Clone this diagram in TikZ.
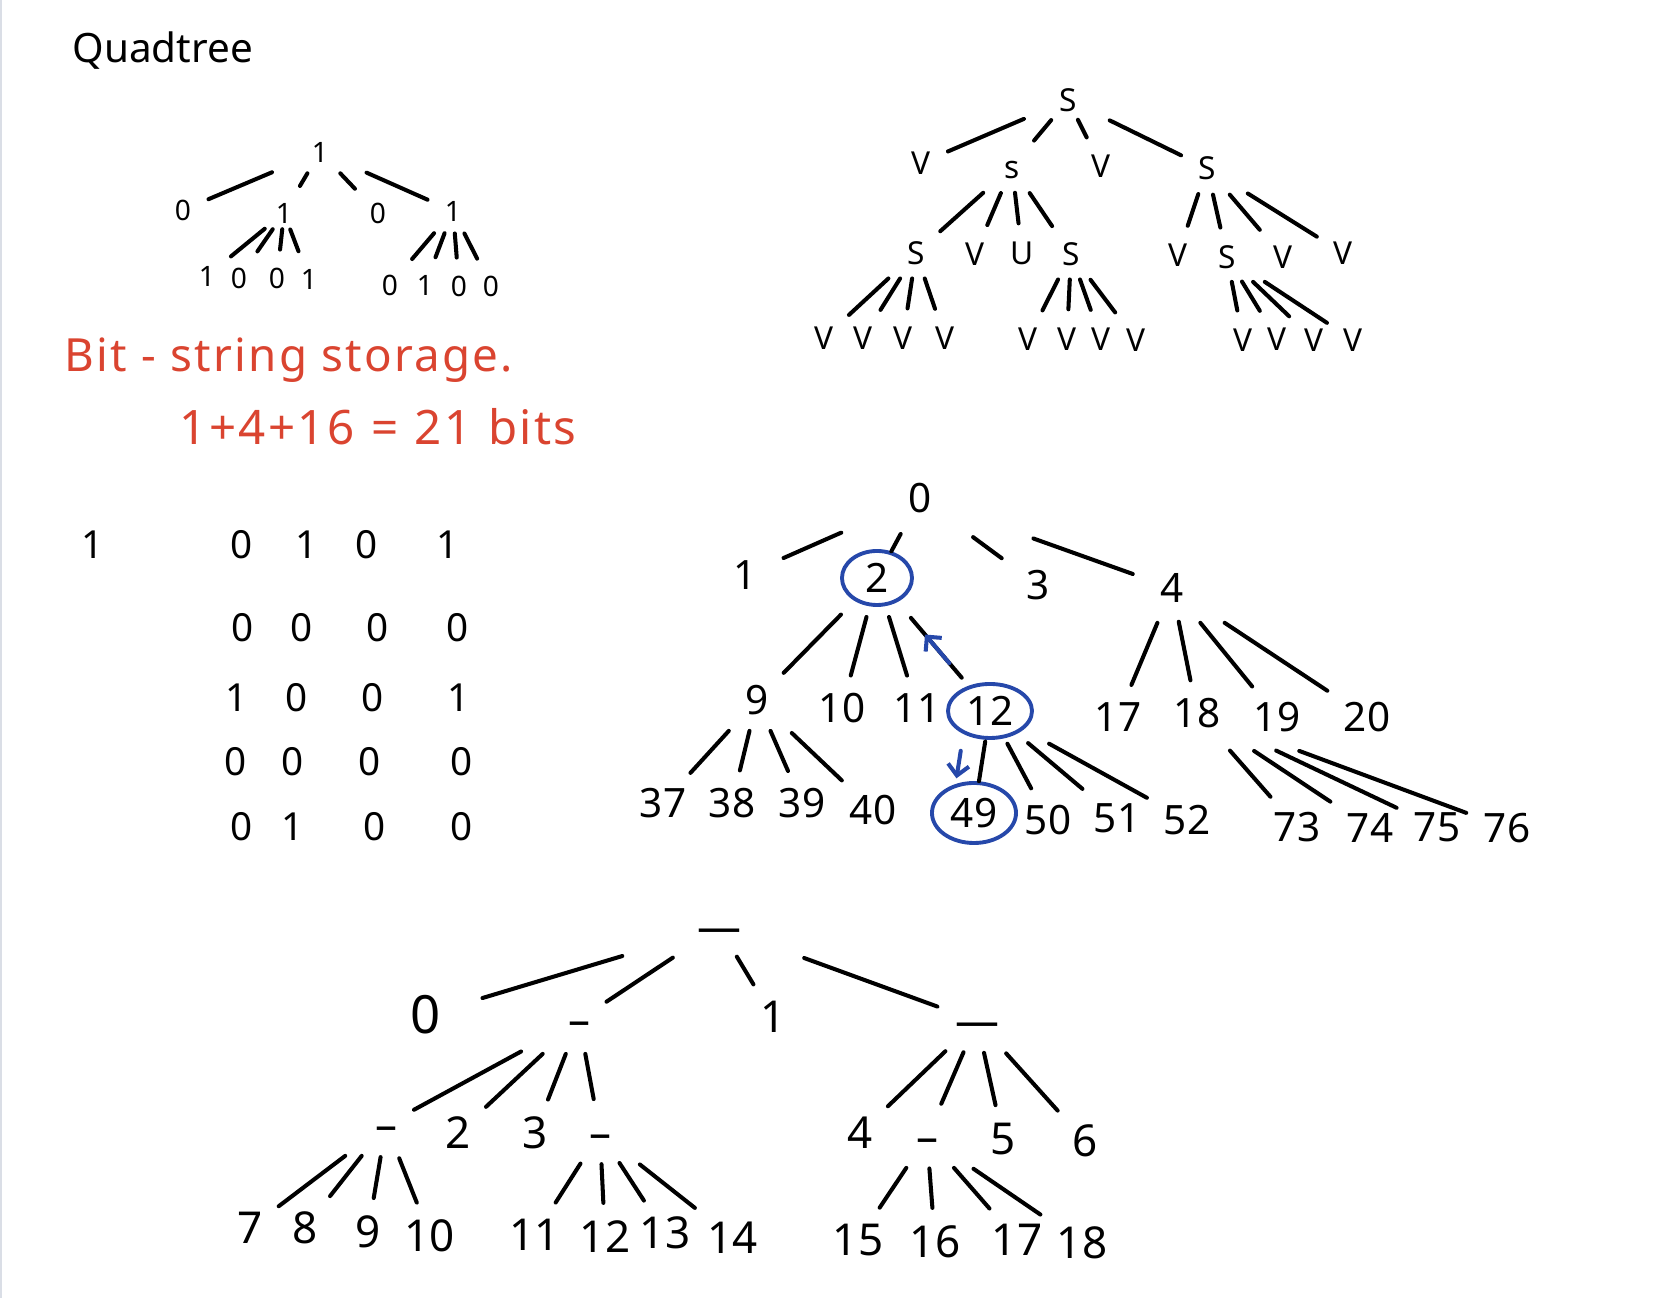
\documentclass[tikz,border=0pt]{standalone}
\usepackage{fontspec}
\setmainfont{Noto Sans}
\newfontfamily\notefont{Noto Sans}[LetterSpace=5]
\usepackage{tikz}
\usetikzlibrary{calc,arrows.meta,shapes.geometric}
\definecolor{inkred}{RGB}{218,68,48}
\definecolor{inkblue}{RGB}{38,72,170}
\definecolor{framegray}{RGB}{218,222,230}
\tikzset{inkline/.style={line width=1.15pt,line cap=round,line join=round}}
\tikzset{twig/.style={to path={($(\tikztostart)!#1!(\tikztotarget)$) -- (\tikztotarget)},shorten >=3pt},twig/.default=.3}
\tikzset{bitnode/.style={font=\fontsize{8}{10}\selectfont,text height=5.8pt,text depth=0pt,inner sep=2pt}}
\tikzset{svnode/.style={font=\fontsize{9}{11}\selectfont,text height=6.5pt,text depth=0pt,inner sep=2pt}}
\tikzset{gridnode/.style={font=\fontsize{11}{13}\selectfont,inner sep=1pt}}
\tikzset{midnode/.style={font=\fontsize{11.5}{14}\selectfont,text height=8.3pt,text depth=0pt,inner sep=2pt}}
\tikzset{lownode/.style={font=\fontsize{12.5}{15}\selectfont,text height=9pt,text depth=0pt,inner sep=2pt}}
\tikzset{ring/.style={ellipse,draw=inkblue,line width=1.1pt,inner sep=0pt}}
\tikzset{notetext/.style={text=inkred,inner sep=0pt}}

\begin{document}
\begin{tikzpicture}[x=0.01cm,y=-0.01cm]
  \useasboundingbox (0,0) rectangle (1668,1298);
  \draw[framegray,line width=0.6pt] (1,0) -- (1,1298);

  % heading and note
  \node[font=\fontsize{11.5}{14}\selectfont,anchor=base west,inner sep=0pt] (title) at (72,63) {Quadtree};
  \node[notetext,font=\notefont\fontsize{13}{16}\selectfont,anchor=base west] (note) at (64,372) {Bit - string storage.};
  \node[notetext,font=\notefont\fontsize{13.5}{16}\selectfont,anchor=base west] (sum) at (179,445) {1+4+16\hspace{.35em}=\hspace{.35em}21\hspace{.35em}bits};

  % bit tree
  \node[bitnode] (r1) at (320,152) {1};
  \node[bitnode] (a1) at (183,210) {0};
  \node[bitnode] (a2) at (284,213) {1};
  \node[bitnode] (a3) at (378,213) {0};
  \node[bitnode] (a4) at (453,211) {1};
  \node[bitnode] (b1) at (207,276) {1};
  \node[bitnode] (b2) at (239,278) {0};
  \node[bitnode] (b3) at (277,278) {0};
  \node[bitnode] (b4) at (309,279) {1};
  \node[bitnode] (c1) at (390,285) {0};
  \node[bitnode] (c2) at (425,285) {1};
  \node[bitnode] (c3) at (459,286) {0};
  \node[bitnode] (c4) at (491,286) {0};
  \draw[inkline] (r1) edge[twig=.35] (a1)
                 (r1) edge[twig=.35] (a2)
                 (r1) edge[twig=.35] (a3)
                 (r1) edge[twig=.35] (a4)
                 (a2) edge[twig=.25] (b1)
                 (a2) edge[twig=.25] (b2)
                 (a2) edge[twig=.25] (b3)
                 (a2) edge[twig=.25] (b4)
                 (a4) edge[twig] (c1)
                 (a4) edge[twig] (c2)
                 (a4) edge[twig] (c3)
                 (a4) edge[twig] (c4);

  % S / V tree
  \node[svnode] (s0) at (1068,100) {S};
  \node[svnode] (s1) at (921,163) {V};
  \node[svnode] (s2) at (1012,167) {s};
  \node[svnode] (s3) at (1101,166) {V};
  \node[svnode] (s4) at (1207,168) {S};
  \node[svnode] (s21) at (916,253) {S};
  \node[svnode] (s22) at (975,254) {V};
  \node[svnode] (s23) at (1022,253) {U};
  \node[svnode] (s24) at (1071,254) {S};
  \node[svnode] (s41) at (1178,255) {V};
  \node[svnode] (s42) at (1227,257) {S};
  \node[svnode] (s43) at (1283,257) {V};
  \node[svnode] (s44) at (1343,253) {V};
  \node[svnode] (s211) at (824,338) {V};
  \node[svnode] (s212) at (863,338) {V};
  \node[svnode] (s213) at (903,338) {V};
  \node[svnode] (s214) at (945,338) {V};
  \node[svnode] (s241) at (1028,339) {V};
  \node[svnode] (s242) at (1067,339) {V};
  \node[svnode] (s243) at (1101,339) {V};
  \node[svnode] (s244) at (1136,340) {V};
  \node[svnode] (s421) at (1243,340) {V};
  \node[svnode] (s422) at (1277,339) {V};
  \node[svnode] (s423) at (1314,340) {V};
  \node[svnode] (s424) at (1353,340) {V};
  \draw[inkline] (s0) edge[twig] (s1)
                 (s0) edge[twig] (s2)
                 (s0) edge[twig] (s3)
                 (s0) edge[twig] (s4)
                 (s2) edge[twig] (s21)
                 (s2) edge[twig] (s22)
                 (s2) edge[twig] (s23)
                 (s2) edge[twig] (s24)
                 (s4) edge[twig] (s41)
                 (s4) edge[twig] (s42)
                 (s4) edge[twig] (s43)
                 (s4) edge[twig] (s44)
                 (s21) edge[twig] (s211)
                 (s21) edge[twig] (s212)
                 (s21) edge[twig] (s213)
                 (s21) edge[twig] (s214)
                 (s24) edge[twig] (s241)
                 (s24) edge[twig] (s242)
                 (s24) edge[twig] (s243)
                 (s24) edge[twig] (s244)
                 (s42) edge[twig] (s421)
                 (s42) edge[twig] (s422)
                 (s42) edge[twig] (s423)
                 (s42) edge[twig] (s424);

  % bit rows
  \node[gridnode] (g0) at (93,545) {1};
  \node[gridnode] (g11) at (242,545) {0}; \node[gridnode] (g12) at (307,545) {1};
  \node[gridnode] (g13) at (367,545) {0}; \node[gridnode] (g14) at (448,545) {1};
  \node[gridnode] (g21) at (243,628) {0}; \node[gridnode] (g22) at (302,628) {0};
  \node[gridnode] (g23) at (378,628) {0}; \node[gridnode] (g24) at (458,628) {0};
  \node[gridnode] (g31) at (237,698) {1}; \node[gridnode] (g32) at (297,698) {0};
  \node[gridnode] (g33) at (373,698) {0}; \node[gridnode] (g34) at (459,698) {1};
  \node[gridnode] (g41) at (236,762) {0}; \node[gridnode] (g42) at (293,762) {0};
  \node[gridnode] (g43) at (370,762) {0}; \node[gridnode] (g44) at (462,762) {0};
  \node[gridnode] (g51) at (242,827) {0}; \node[gridnode] (g52) at (293,827) {1};
  \node[gridnode] (g53) at (375,827) {0}; \node[gridnode] (g54) at (462,827) {0};

  % numbered tree
  \node[midnode] (m0) at (920,498) {0};
  \node[midnode] (m1) at (745,575) {1};
  \node[midnode,ring,minimum width=0.7cm,minimum height=0.54cm] (m2) at (877,578) {2};
  \node[midnode] (m3) at (1038,585) {3};
  \node[midnode] (m4) at (1172,588) {4};
  \node[midnode] (m9) at (757,700) {9};
  \node[midnode] (m10) at (842,708) {10};
  \node[midnode] (m11) at (917,708) {11};
  \node[midnode,ring,minimum width=0.84cm,minimum height=0.54cm] (m12) at (990,711) {12};
  \node[midnode] (m17) at (1118,717) {17};
  \node[midnode] (m18) at (1197,713) {18};
  \node[midnode] (m19) at (1277,717) {19};
  \node[midnode] (m20) at (1367,717) {20};
  \node[midnode] (m37) at (663,803) {37};
  \node[midnode] (m38) at (732,803) {38};
  \node[midnode] (m39) at (802,803) {39};
  \node[midnode] (m40) at (873,810) {40};
  \node[midnode,ring,minimum width=0.84cm,minimum height=0.6cm] (m49) at (974,813) {49};
  \node[midnode] (m50) at (1048,820) {50};
  \node[midnode] (m51) at (1117,818) {51};
  \node[midnode] (m52) at (1187,820) {52};
  \node[midnode] (m73) at (1297,827) {73};
  \node[midnode] (m74) at (1370,828) {74};
  \node[midnode] (m75) at (1437,827) {75};
  \node[midnode] (m76) at (1507,828) {76};
  \draw[inkline] (m0) edge[twig=.45,shorten >=6pt] (m1)
                 (m0) edge[twig=.45,shorten >=0pt] (m2)
                 (m0) edge[twig=.45,shorten >=6pt] (m3)
                 (m0) edge[twig=.45,shorten >=6pt] (m4)
                 (m2) edge[twig] (m9)
                 (m2) edge[twig] (m10)
                 (m2) edge[twig] (m11)
                 (m2) edge[twig] (m12)
                 (m4) edge[twig=.27] (m17)
                 (m4) edge[twig=.27] (m18)
                 (m4) edge[twig=.27] (m19)
                 (m4) edge[twig=.27] (m20)
                 (m9) edge[twig] (m37)
                 (m9) edge[twig] (m38)
                 (m9) edge[twig] (m39)
                 (m9) edge[twig] (m40)
                 (m12) edge[twig,shorten >=0pt] (m49)
                 (m12) edge[twig] (m50)
                 (m12) edge[twig] (m51)
                 (m12) edge[twig] (m52)
                 (m18) edge[twig=.33] (m73)
                 (m18) edge[twig=.33] (m74)
                 (m18) edge[twig=.33] (m75)
                 (m18) edge[twig=.33] (m76);
  \draw[inkline,inkblue,-{Straight Barb[length=3pt,width=6pt]}] ($(m12)!.36!(m2)$) -- ($(m12)!.575!(m2)$);
  \draw[inkline,inkblue,-{Straight Barb[length=3pt,width=6pt]}] ($(m12)!.39!(m49)+(-23,0)$) -- ($(m12)!.66!(m49)+(-23,0)$);

  % dash tree
  \node[lownode] (l0) at (719,927) {—};
  \node[lownode,font=\fontsize{15}{18}\selectfont,text height=10.8pt] (l1) at (426,1015) {0};
  \node[lownode] (l2) at (579,1020) {–};
  \node[lownode] (l3) at (773,1017) {1};
  \node[lownode] (l4) at (977,1021) {—};
  \node[lownode] (l21) at (386,1125) {–};
  \node[lownode] (l22) at (458,1133) {2};
  \node[lownode] (l23) at (535,1133) {3};
  \node[lownode] (l24) at (600,1133) {–};
  \node[lownode] (l41) at (860,1133) {4};
  \node[lownode] (l42) at (927,1137) {–};
  \node[lownode] (l43) at (1003,1139) {5};
  \node[lownode] (l44) at (1085,1141) {6};
  \node[lownode] (l7) at (250,1228) {7};
  \node[lownode] (l8) at (305,1228) {8};
  \node[lownode] (l9) at (368,1232) {9};
  \node[lownode] (l10) at (430,1236) {10};
  \node[lownode] (l11) at (535,1235) {11};
  \node[lownode] (l12) at (605,1237) {12};
  \node[lownode] (l13) at (665,1233) {13};
  \node[lownode] (l14) at (733,1238) {14};
  \node[lownode] (l15) at (858,1240) {15};
  \node[lownode] (l16) at (935,1242) {16};
  \node[lownode] (l17) at (1017,1240) {17};
  \node[lownode] (l18) at (1082,1243) {18};
  \draw[inkline] (l0) edge[twig=.33,shorten >=10pt] (l1)
                 (l0) edge[twig=.33] (l2)
                 (l0) edge[twig=.33] (l3)
                 (l0) edge[twig=.33] (l4)
                 (l2) edge[twig] (l21)
                 (l2) edge[twig] (l22)
                 (l2) edge[twig] (l23)
                 (l2) edge[twig] (l24)
                 (l4) edge[twig=.27] (l41)
                 (l4) edge[twig=.27] (l42)
                 (l4) edge[twig=.27] (l43)
                 (l4) edge[twig=.27] (l44)
                 (l21) edge[twig] (l7)
                 (l21) edge[twig] (l8)
                 (l21) edge[twig] (l9)
                 (l21) edge[twig] (l10)
                 (l24) edge[twig] (l11)
                 (l24) edge[twig] (l12)
                 (l24) edge[twig] (l13)
                 (l24) edge[twig] (l14)
                 (l42) edge[twig] (l15)
                 (l42) edge[twig] (l16)
                 (l42) edge[twig] (l17)
                 (l42) edge[twig] (l18);
\end{tikzpicture}
\end{document}
